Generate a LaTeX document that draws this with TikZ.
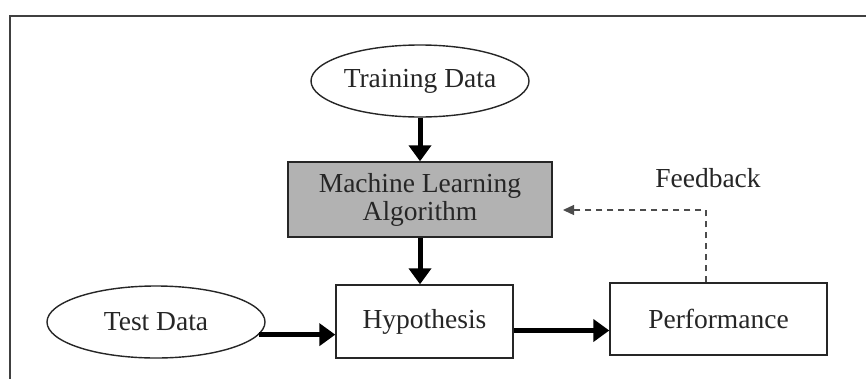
\documentclass[tikz,border=0pt]{standalone}
\usepackage{fontspec}
\setmainfont{Liberation Serif}
\usetikzlibrary{shapes.geometric,arrows.meta,calc}
\begin{document}
\begin{tikzpicture}[x=1pt,y=-1pt,
  every node/.style={font=\fontsize{27.5}{31}\selectfont, text=black!85, inner sep=0pt, align=center},
  ell/.style={ellipse, draw=black!85, line width=1.4pt, minimum width=218pt, minimum height=72pt},
  box/.style={rectangle, draw=black!85, line width=1.4pt},
  bigarrow/.style={line width=5pt, -{Triangle[length=16pt,width=22pt]}},
  fbarrow/.style={line width=1.3pt, draw=black!70, dash pattern=on 6pt off 5pt, -{Triangle[length=11pt,width=10pt]}}]
\useasboundingbox (0,0) rectangle (866,378);
\fill[white] (0,0) rectangle (866,378);
% frame
\draw[line width=2.6pt, black!75] (10,380) -- (10,16) -- (868,16);
% nodes
\node[ell] (train) at (420,81) {Training Data};
\node[box, fill=black!30, minimum width=264pt, minimum height=75pt] (ml) at (420,199.5) {Machine Learning\\[-3pt]Algorithm};
\node[box, minimum width=177pt, minimum height=73pt] (hyp) at (424.5,321.5) {Hypothesis};
\node[ell] (test) at (156,322) {Test Data};
\node[box, minimum width=217pt, minimum height=72pt] (perf) at (718.5,319) {Performance};
\node (fbl) at (708,178) {Feedback};
% connectors
\draw[bigarrow] (train.south) -- (ml.north);
\draw[bigarrow] (ml.south) -- (ml.south |- hyp.north);
\draw[bigarrow] (test.-7) -- (test.-7 -| hyp.west);
\coordinate (h1) at ($(hyp.east)+(0,9)$);
\draw[bigarrow] (h1) -- (h1 -| perf.west);
\coordinate (fbstart) at ($(perf.north)+(-12.5,0)$);
\coordinate (fbtip) at (563,210);
\draw[fbarrow] (fbstart) |- (fbtip);
\end{tikzpicture}
\end{document}
